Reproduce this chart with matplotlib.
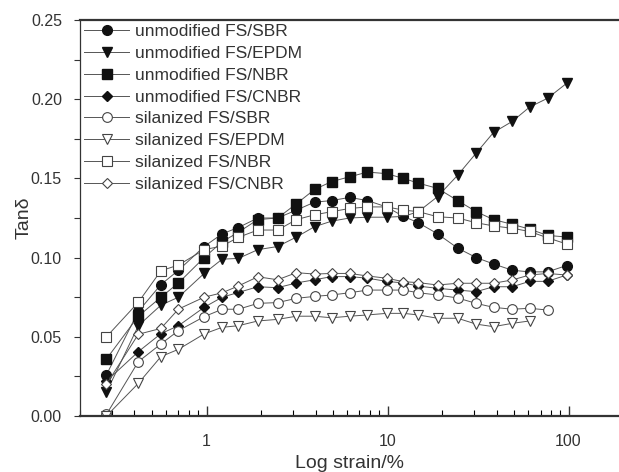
import numpy as np
import matplotlib
matplotlib.use("Agg")
import matplotlib.pyplot as plt
from matplotlib.ticker import LogLocator, FixedLocator, FormatStrFormatter, NullFormatter

plt.rcParams['font.family'] = ['Liberation Sans', 'DejaVu Sans']

# strain amplitude (%)
strain = [0.28, 0.42, 0.56, 0.70, 0.97, 1.22, 1.50, 1.92, 2.47, 3.14, 3.95, 4.91, 6.17,
          7.75, 9.87, 12.25, 14.8, 18.9, 24.4, 30.9, 38.5, 48.9, 60.9, 76.6, 97.5]

nan = np.nan
u_sbr = [0.026, 0.066, 0.083, 0.092, 0.107, 0.115, 0.119, 0.125, 0.125, 0.130, 0.135, 0.136, 0.138,
         0.136, 0.132, 0.126, 0.122, 0.115, 0.106, 0.100, 0.096, 0.092, 0.091, 0.091, 0.095]
u_epdm = [0.015, 0.057, 0.070, 0.075, 0.090, 0.099, 0.0995, 0.105, 0.107, 0.113, 0.1195, 0.123, 0.125,
          0.1255, 0.1255, 0.126, 0.129, 0.1385, 0.152, 0.166, 0.179, 0.186, 0.195, 0.2006, 0.210]
u_nbr = [0.036, 0.063, 0.075, 0.084, 0.100, 0.110, 0.116, 0.124, 0.125, 0.134, 0.143, 0.148, 0.151,
         0.154, 0.153, 0.150, 0.147, 0.1437, 0.136, 0.129, 0.124, 0.121, 0.118, 0.114, 0.113]
u_cnbr = [0.022, 0.0406, 0.052, 0.057, 0.0686, 0.075, 0.078, 0.0816, 0.081, 0.084, 0.086, 0.088, 0.088,
          0.087, 0.085, 0.084, 0.082, 0.0806, 0.0795, 0.0785, 0.0816, 0.0816, 0.085, 0.085, 0.089]
s_sbr = [0.001, 0.0343, 0.0455, 0.0539, 0.0627, 0.0674, 0.0674, 0.0711, 0.0716, 0.0743, 0.0755, 0.0764, 0.0778,
         0.0795, 0.0795, 0.0795, 0.0778, 0.0764, 0.0745, 0.0711, 0.0686, 0.0674, 0.068, 0.0669, nan]
s_epdm = [0.0, 0.0206, 0.0375, 0.0421, 0.0518, 0.056, 0.057, 0.060, 0.061, 0.063, 0.063, 0.062, 0.063,
          0.0638, 0.0648, 0.0648, 0.0638, 0.0617, 0.0617, 0.058, 0.0564, 0.0585, 0.060, nan, nan]
s_nbr = [0.050, 0.0718, 0.0917, 0.0953, 0.105, 0.1073, 0.1128, 0.1174, 0.1174, 0.124, 0.127, 0.129, 0.131,
         0.132, 0.132, 0.130, 0.129, 0.1258, 0.125, 0.122, 0.120, 0.1185, 0.1165, 0.1125, 0.1086]
s_cnbr = [0.020, 0.0516, 0.0553, 0.0675, 0.075, 0.0778, 0.0821, 0.0879, 0.086, 0.0905, 0.0896, 0.090, 0.090,
          0.0884, 0.087, 0.0848, 0.0842, 0.0827, 0.0838, 0.0838, 0.0838, 0.0859, 0.089, 0.090, 0.089]

series = [
    (u_sbr, "o", True, "unmodified FS/SBR"),
    (u_epdm, "v", True, "unmodified FS/EPDM"),
    (u_nbr, "s", True, "unmodified FS/NBR"),
    (u_cnbr, "D", True, "unmodified FS/CNBR"),
    (s_sbr, "o", False, "silanized FS/SBR"),
    (s_epdm, "v", False, "silanized FS/EPDM"),
    (s_nbr, "s", False, "silanized FS/NBR"),
    (s_cnbr, "D", False, "silanized FS/CNBR"),
]

fig = plt.figure(figsize=(6.19, 4.72), dpi=100)
ax = fig.add_axes([80/619, 1-416/472, 1-80/619, (416-20)/472])

for y, m, filled, lab in series:
    ms = 5.5 if m == "D" else 7
    if filled:
        ax.plot(strain, y, marker=m, color="#555555", lw=0.7, ms=ms,
                mfc="#111111", mec="#111111", label=lab)
    else:
        ax.plot(strain, y, marker=m, color="#555555", lw=0.7, ms=ms,
                mfc="white", mec="#444444", mew=0.8, label=lab)

ax.set_xscale("log")
ax.set_xlim(0.2, 190)
ax.set_ylim(0, 0.25)

ax.xaxis.set_major_locator(FixedLocator([1, 10, 100]))
ax.xaxis.set_major_formatter(FormatStrFormatter("%g"))
ax.xaxis.set_minor_locator(LogLocator(base=10, subs=np.arange(2, 10)))
ax.xaxis.set_minor_formatter(NullFormatter())
ax.set_yticks([0, 0.05, 0.10, 0.15, 0.20, 0.25])
ax.yaxis.set_major_formatter(FormatStrFormatter("%.2f"))
ax.set_yticks(np.arange(0.025, 0.25, 0.05), minor=True)

ax.tick_params(axis="x", which="major", direction="in", length=7, width=1, pad=13,
               labelsize=11.5, colors="#333333", top=False)
ax.tick_params(axis="x", which="minor", direction="in", length=4, width=0.8, top=False)
ax.tick_params(axis="y", which="both", direction="out", length=4, width=0.8, pad=9,
               labelsize=11.5, colors="#333333", right=False)

ax.spines["right"].set_visible(False)
ax.spines["top"].set_linewidth(1.6)
ax.spines["bottom"].set_linewidth(1.6)
ax.spines["left"].set_linewidth(0.9)
for s in ax.spines.values():
    s.set_color("#333333")

ax.set_xlabel("Log strain/%", fontsize=14, color="#333333", labelpad=4)
ax.set_ylabel("Tanδ", fontsize=14, color="#333333", labelpad=-1)

ax.legend(loc="upper left", bbox_to_anchor=(0, 1), frameon=False, fontsize=12.5,
          labelspacing=0.38, handlelength=2.6, handletextpad=0.3,
          borderpad=0.1, borderaxespad=0.15, labelcolor="#333333")

fig.savefig("out.png", dpi=100)
